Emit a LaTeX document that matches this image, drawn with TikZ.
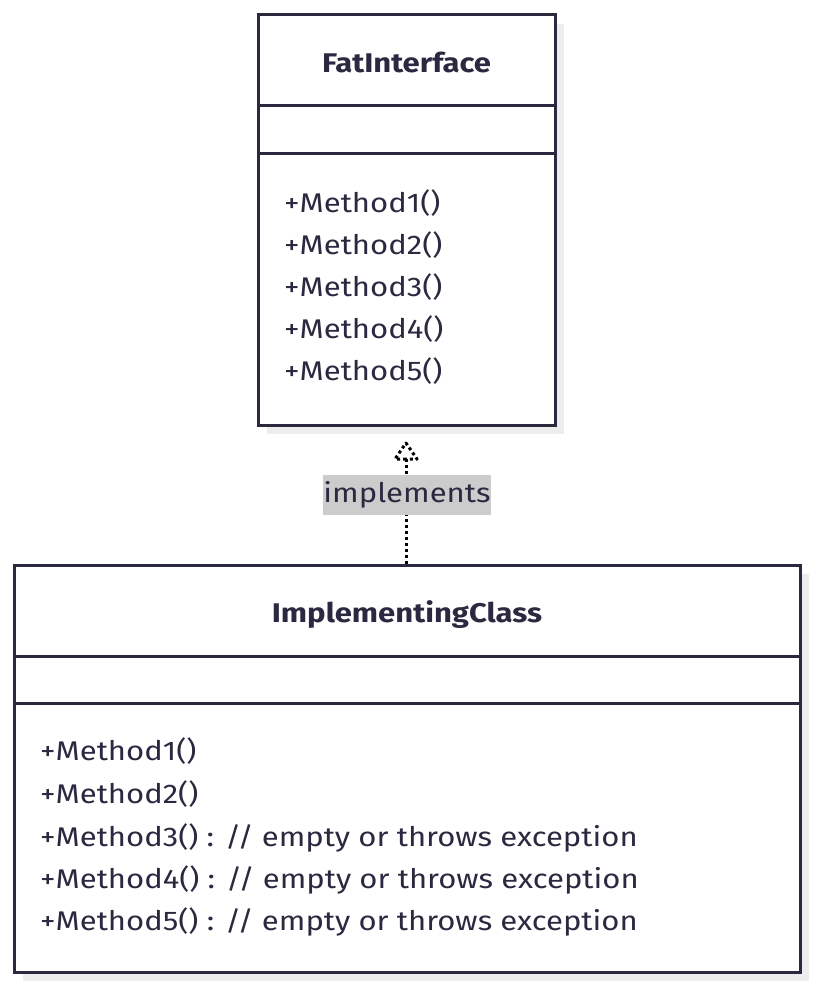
\documentclass[tikz,border=0pt]{standalone}
\usepackage{fontspec}
\setmainfont[FakeStretch=1.15]{Fira Sans}
\usetikzlibrary{arrows.meta,shadows}
\definecolor{ink}{HTML}{2A2940}
\definecolor{shade}{HTML}{EDEDED}
\definecolor{lblbg}{HTML}{CCCCCC}
\tikzset{
  classbox/.style={draw=ink, line width=3pt, fill=white, rectangle, inner sep=0pt,
    general shadow={shadow xshift=9pt, shadow yshift=-9pt, fill=shade}},
  divider/.style={draw=ink, line width=3pt},
  member/.style={anchor=base west, inner sep=0pt, text=ink, font=\fontsize{27}{32}\selectfont},
  title/.style={anchor=base, inner sep=0pt, text=ink, font=\fontsize{27}{32}\selectfont\bfseries},
  realize/.style={draw=black, line width=3pt, dash pattern=on 3pt off 3pt},
  lbl/.style={fill=lblbg, text=ink, font=\fontsize{27}{32}\selectfont, inner xsep=0pt, minimum height=40pt, minimum width=164pt}
}
\begin{document}
\begin{tikzpicture}[x=1pt,y=-1pt]
\useasboundingbox (0,0) rectangle (814,990);
% FatInterface
\node[classbox, minimum width=297pt, minimum height=410pt] (b1) at (406.5,220) {};
\draw[divider] (b1.west |- 0,105) -- (b1.east |- 0,105);
\draw[divider] (b1.west |- 0,153) -- (b1.east |- 0,153);
\node[title] (t1) at (406.5,73) {FatInterface};
\node[member] (m11) at (284,212) {+Method1()};
\node[member] (m12) at (284,254) {+Method2()};
\node[member] (m13) at (284,296) {+Method3()};
\node[member] (m14) at (284,338) {+Method4()};
\node[member] (m15) at (284,380) {+Method5()};
% ImplementingClass
\node[classbox, minimum width=786pt, minimum height=407pt] (b2) at (407,768.5) {};
\draw[divider] (b2.west |- 0,656) -- (b2.east |- 0,656);
\draw[divider] (b2.west |- 0,703) -- (b2.east |- 0,703);
\node[title] (t2) at (407,622) {ImplementingClass};
\node[member] (m21) at (40,760) {+Method1()};
\node[member] (m22) at (40,803) {+Method2()};
\node[member] (m23) at (40,846) {+Method3() : // empty or throws exception};
\node[member] (m24) at (40,888) {+Method4() : // empty or throws exception};
\node[member] (m25) at (40,930) {+Method5() : // empty or throws exception};
% realization
\coordinate (tip) at (406,443);
\coordinate (base) at (406,459);
\draw[realize] (b2.north -| tip) -- (base);
\draw[realize, line join=round] (base) -- (395,459) -- (tip) -- (417,459) -- cycle;
\node[lbl] (l) at (407,495) {implements};
\end{tikzpicture}
\end{document}
